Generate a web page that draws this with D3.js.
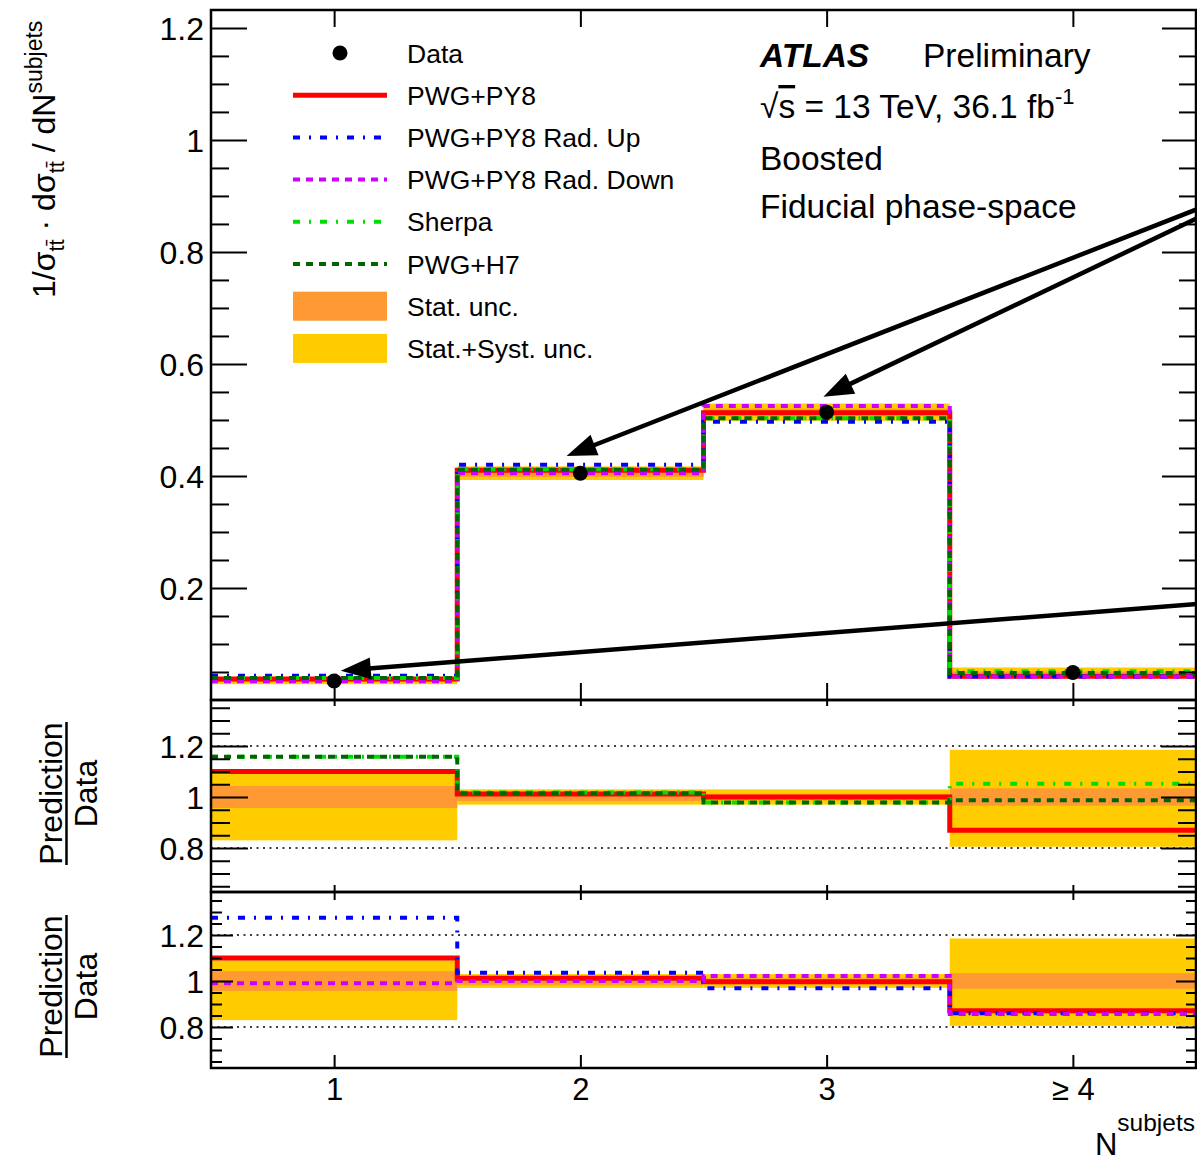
<!DOCTYPE html>
<html><head><meta charset="utf-8">
<script src="https://cdn.jsdelivr.net/npm/d3@7"></script>
<style>body{margin:0;background:#fff}svg{display:block}text{font-family:"Liberation Sans",Arial,Helvetica,sans-serif;fill:#000}</style>
</head><body>
<svg id="chart" width="1197" height="1162"></svg>
<script>
// ---------------- data ----------------
const categories = ["1", "2", "3", "\u2265 4"];
const binCenters = [1, 2, 3, 4];
const dataValues = [0.034, 0.405, 0.514, 0.049];
const pwgPy8     = [0.0374, 0.410, 0.513, 0.0426];
const radUp      = [0.0434, 0.420, 0.497, 0.0421];
const radDown    = [0.0337, 0.405, 0.525, 0.0420];
const sherpa     = [0.0394, 0.412, 0.503, 0.0515];
const pwgH7      = [0.0394, 0.411, 0.503, 0.0484];
// relative uncertainties
const statUnc    = [0.043, 0.016, 0.012, 0.034];
const totUncUp   = [0.09, 0.03, 0.03, 0.185];
const totUncDown = [0.17, 0.03, 0.03, 0.195];
// ratio panel 1
const r1PwgPy8 = [1.100, 1.012, 1.000, 0.870];
const r1Sherpa = [1.158, 1.018, 0.978, 1.052];
const r1H7     = [1.158, 1.015, 0.978, 0.987];
// ratio panel 2
const r2PwgPy8  = [1.100, 1.012, 0.997, 0.871];
const r2RadUp   = [1.275, 1.036, 0.968, 0.860];
const r2RadDown = [0.990, 1.000, 1.022, 0.857];
// ticks
const mainMajorTicks = [0.2, 0.4, 0.6, 0.8, 1.0, 1.2];
const mainTickLabels = ["0.2", "0.4", "0.6", "0.8", "1", "1.2"];
const ratioMajorTicks = [0.8, 1.0, 1.2];
const ratioTickLabels = ["0.8", "1", "1.2"];
const legendLabels = ["Data", "PWG+PY8", "PWG+PY8 Rad. Up", "PWG+PY8 Rad. Down", "Sherpa", "PWG+H7", "Stat. unc.", "Stat.+Syst. unc."];
// annotation arrows (data coordinates)
const arrows = [
  {from: [4.5, 0.877], to: [1.944, 0.4357]},
  {from: [4.5, 0.861], to: [2.987, 0.5416]},
  {from: [4.5, 0.1714], to: [1.027, 0.0523]}
];

// ---------------- styles ----------------
const S = {
  pwgPy8:  {color: "#ff0000", width: 5, dash: null},
  radUp:   {color: "#0000ff", width: 4, dash: "7,9,2,9"},
  radDown: {color: "#cc00ff", width: 4, dash: "7,6"},
  sherpa:  {color: "#00dd00", width: 4, dash: "7,9,2,9"},
  pwgH7:   {color: "#006600", width: 4, dash: "7,6"},
  stat: "#ff9933", tot: "#ffcc00"
};

const svg = d3.select("#chart");
const xL = 211, xR = 1196;
const x = d3.scaleLinear().domain([0.5, 4.5]).range([xL, xR]);
const panels = {
  main: {top: 10, bottom: 700, y: d3.scaleLinear().domain([0, 1.232]).range([700, 10])},
  r1:   {top: 700, bottom: 892, y: d3.scaleLinear().domain([0.6275, 1.3804]).range([892, 700])},
  r2:   {top: 892, bottom: 1068, y: d3.scaleLinear().domain([0.6217, 1.387]).range([1068, 892])}
};

const defs = svg.append("defs");
Object.entries(panels).forEach(([k, p]) => {
  defs.append("clipPath").attr("id", "clip-" + k).append("rect")
    .attr("x", xL).attr("y", p.top).attr("width", xR - xL).attr("height", p.bottom - p.top);
  p.g = svg.append("g").attr("clip-path", `url(#clip-${k})`);
});

function stepPath(values, y) {
  const pts = values.flatMap((v, i) => [[x(binCenters[i] - 0.5), y(v)], [x(binCenters[i] + 0.5), y(v)]]);
  return d3.line()(pts);
}
function drawSeries(g, values, y, st) {
  g.append("path").attr("d", stepPath(values, y)).attr("fill", "none")
    .attr("stroke", st.color).attr("stroke-width", st.width)
    .attr("stroke-dasharray", st.dash).attr("stroke-linejoin", "miter");
}
function drawBands(g, y, center) {
  binCenters.forEach((c, i) => {
    const ref = center ? center[i] : 1;
    const x0 = x(c - 0.5), x1 = x(c + 0.5);
    g.append("rect").attr("x", x0).attr("width", x1 - x0)
      .attr("y", y(ref * (1 + totUncUp[i]))).attr("height", y(ref * (1 - totUncDown[i])) - y(ref * (1 + totUncUp[i])))
      .attr("fill", S.tot);
    g.append("rect").attr("x", x0).attr("width", x1 - x0)
      .attr("y", y(ref * (1 + statUnc[i]))).attr("height", y(ref * (1 - statUnc[i])) - y(ref * (1 + statUnc[i])))
      .attr("fill", S.stat);
  });
}
function refLines(g, y) {
  [0.8, 1.2].forEach(v => g.append("line").attr("x1", xL).attr("x2", xR).attr("y1", y(v)).attr("y2", y(v))
    .attr("stroke", "#000").attr("stroke-width", 1.5).attr("stroke-dasharray", "2,4.5"));
}

// main panel
const M = panels.main;
drawBands(M.g, M.y, dataValues);
drawSeries(M.g, pwgPy8, M.y, S.pwgPy8);
drawSeries(M.g, radUp, M.y, S.radUp);
drawSeries(M.g, radDown, M.y, S.radDown);
drawSeries(M.g, sherpa, M.y, S.sherpa);
drawSeries(M.g, pwgH7, M.y, S.pwgH7);
M.g.selectAll("circle.data").data(dataValues).join("circle").attr("class", "data")
  .attr("cx", (d, i) => x(binCenters[i])).attr("cy", d => M.y(d)).attr("r", 7.5).attr("fill", "#000");

// ratio 1
const R1 = panels.r1;
drawBands(R1.g, R1.y, null);
refLines(R1.g, R1.y);
drawSeries(R1.g, r1PwgPy8, R1.y, S.pwgPy8);
drawSeries(R1.g, r1Sherpa, R1.y, S.sherpa);
drawSeries(R1.g, r1H7, R1.y, S.pwgH7);

// ratio 2
const R2 = panels.r2;
drawBands(R2.g, R2.y, null);
refLines(R2.g, R2.y);
drawSeries(R2.g, r2PwgPy8, R2.y, S.pwgPy8);
drawSeries(R2.g, r2RadUp, R2.y, S.radUp);
drawSeries(R2.g, r2RadDown, R2.y, S.radDown);

// ---------------- axes ----------------
function styleAxis(sel, w) {
  sel.select(".domain").remove();
  sel.selectAll(".tick line").attr("stroke", "#000").attr("stroke-width", w || 2);
}
function yTicks(p, minorVals, majorVals, majLen, minLen, labels, fontSize) {
  svg.append("g").attr("transform", `translate(${xL},0)`)
    .call(d3.axisRight(p.y).tickValues(minorVals).tickSize(minLen).tickFormat("")).call(styleAxis);
  svg.append("g").attr("transform", `translate(${xL},0)`)
    .call(d3.axisRight(p.y).tickValues(majorVals).tickSize(majLen).tickFormat("")).call(styleAxis);
  svg.append("g").attr("transform", `translate(${xR},0)`)
    .call(d3.axisLeft(p.y).tickValues(minorVals).tickSize(minLen - 1).tickFormat("")).call(styleAxis);
  svg.append("g").attr("transform", `translate(${xR},0)`)
    .call(d3.axisLeft(p.y).tickValues(majorVals).tickSize(majLen - 2).tickFormat("")).call(styleAxis);
  const lab = svg.append("g").attr("transform", `translate(${xL},0)`)
    .call(d3.axisLeft(p.y).tickValues(majorVals).tickSize(0).tickPadding(7)
      .tickFormat((d, i) => labels[i]));
  lab.select(".domain").remove();
  lab.selectAll("text").attr("font-size", fontSize).attr("font-family", "Liberation Sans, Arial, sans-serif")
    .attr("fill", "#000").attr("dy", "0.36em");
}
const mainMinor = d3.range(1, 25).map(i => +(i * 0.05).toFixed(2)).filter(v => !mainMajorTicks.includes(v));
const ratioMinor = d3.range(13, 28).map(i => +(i * 0.05).toFixed(2)).filter(v => !ratioMajorTicks.includes(v));
yTicks(M, mainMinor, mainMajorTicks, 36, 18, mainTickLabels, 32);
yTicks(R1, ratioMinor, ratioMajorTicks, 37, 19, ratioTickLabels, 32);
yTicks(R2, ratioMinor, ratioMajorTicks, 22, 11, ratioTickLabels, 32);

function xTicks(p, topLen, botLen) {
  svg.append("g").attr("transform", `translate(0,${p.top})`)
    .call(d3.axisBottom(x).tickValues(binCenters).tickSize(topLen).tickFormat("")).call(styleAxis);
  svg.append("g").attr("transform", `translate(0,${p.bottom})`)
    .call(d3.axisTop(x).tickValues(binCenters).tickSize(botLen).tickFormat("")).call(styleAxis);
}
xTicks(M, 17, 17);
xTicks(R1, 6, 7);
xTicks(R2, 8, 13);
const xl = svg.append("g").attr("transform", `translate(0,${R2.bottom})`)
  .call(d3.axisBottom(x).tickValues(binCenters).tickSize(0).tickPadding(10).tickFormat((d, i) => categories[i]));
xl.select(".domain").remove();
xl.selectAll("text").attr("font-size", 31).attr("font-family", "Liberation Sans, Arial, sans-serif").attr("fill", "#000").attr("dy", "0.71em");

// frames
Object.values(panels).forEach(p => {
  svg.append("rect").attr("x", xL).attr("y", p.top).attr("width", xR - xL).attr("height", p.bottom - p.top)
    .attr("fill", "none").attr("stroke", "#000").attr("stroke-width", 2.5);
});

// ---------------- axis titles ----------------
const yt = svg.append("text").attr("transform", "translate(55,298) rotate(-90)").attr("font-size", 32);
yt.append("tspan").text("1/\u03c3");
yt.append("tspan").attr("font-size", 22).attr("dy", 9).text("tt\u0304");
yt.append("tspan").attr("dy", -9).text(" \u00b7 d\u03c3");
yt.append("tspan").attr("font-size", 22).attr("dy", 9).text("tt\u0304");
yt.append("tspan").attr("dy", -9).text(" / dN");
yt.append("tspan").attr("font-size", 23).attr("dy", -13).text("subjets");

[R1, R2].forEach(p => {
  const cy = (p === R1) ? 793.5 : 986.5;
  svg.append("text").attr("transform", `translate(62,${cy}) rotate(-90)`).attr("text-anchor", "middle")
    .attr("font-size", 32).text("Prediction");
  svg.append("text").attr("transform", `translate(97,${cy}) rotate(-90)`).attr("text-anchor", "middle")
    .attr("font-size", 32).text("Data");
  svg.append("line").attr("x1", 66.5).attr("x2", 66.5).attr("y1", cy - 71.5).attr("y2", cy + 71.5)
    .attr("stroke", "#000").attr("stroke-width", 2.5);
});

const xt = svg.append("text").attr("x", 1195).attr("y", 1155).attr("text-anchor", "end").attr("font-size", 31);
xt.append("tspan").text("N");
xt.append("tspan").attr("font-size", 24.5).attr("dy", -24).text("subjets");

// ---------------- ATLAS label ----------------
const t1 = svg.append("text").attr("x", 760).attr("y", 67).attr("font-size", 33.5);
t1.append("tspan").attr("font-weight", "bold").attr("font-style", "italic").text("ATLAS");
t1.append("tspan").attr("x", 923).text("Preliminary");
const t2 = svg.append("text").attr("x", 760).attr("y", 118).attr("font-size", 33.5);
t2.append("tspan").text("\u221a");
t2.append("tspan").attr("text-decoration", "overline").text("s");
t2.append("tspan").text(" = 13 TeV, 36.1 fb");
t2.append("tspan").attr("font-size", 22).attr("dy", -14).text("-1");
svg.append("text").attr("x", 760).attr("y", 170).attr("font-size", 33.5).text("Boosted");
svg.append("text").attr("x", 760).attr("y", 218).attr("font-size", 33.5).text("Fiducial phase-space");

// ---------------- legend ----------------
const legX0 = 293, legX1 = 387, legTX = 407, legY0 = 53, legDY = 42.2;
const legend = svg.append("g");
const legendItems = [
  {type: "dot"}, {type: "line", st: S.pwgPy8}, {type: "line", st: S.radUp}, {type: "line", st: S.radDown},
  {type: "line", st: S.sherpa}, {type: "line", st: S.pwgH7}, {type: "box", c: S.stat}, {type: "box", c: S.tot}
];
legendItems.forEach((it, i) => {
  const cy = legY0 + i * legDY;
  if (it.type === "dot") legend.append("circle").attr("cx", (legX0 + legX1) / 2).attr("cy", cy).attr("r", 7.5).attr("fill", "#000");
  if (it.type === "line") legend.append("line").attr("x1", legX0).attr("x2", legX1).attr("y1", cy).attr("y2", cy)
    .attr("stroke", it.st.color).attr("stroke-width", it.st.width).attr("stroke-dasharray", it.st.dash);
  if (it.type === "box") legend.append("rect").attr("x", legX0).attr("y", cy - 14.5).attr("width", legX1 - legX0).attr("height", 29).attr("fill", it.c);
  legend.append("text").attr("x", legTX).attr("y", cy + 9.5).attr("font-size", 26.5).text(legendLabels[i]);
});

// ---------------- arrows ----------------
const Y = M.y;
arrows.forEach(a => {
  const x0 = x(a.from[0]) + 2, y0 = Y(a.from[1]);
  const x1 = x(a.to[0]), y1 = Y(a.to[1]);
  const dx = x1 - x0, dy = y1 - y0, L = Math.hypot(dx, dy);
  const ux = dx / L, uy = dy / L, hl = 30, hw = 11;
  const bx = x1 - ux * hl, by = y1 - uy * hl;
  svg.append("line").attr("x1", x0).attr("y1", y0).attr("x2", bx + ux * 2).attr("y2", by + uy * 2)
    .attr("stroke", "#000").attr("stroke-width", 4.5);
  svg.append("path").attr("d", d3.line()([[x1, y1], [bx - uy * hw, by + ux * hw], [bx + uy * hw, by - ux * hw]]) + "Z")
    .attr("fill", "#000");
});
</script>
</body></html>
